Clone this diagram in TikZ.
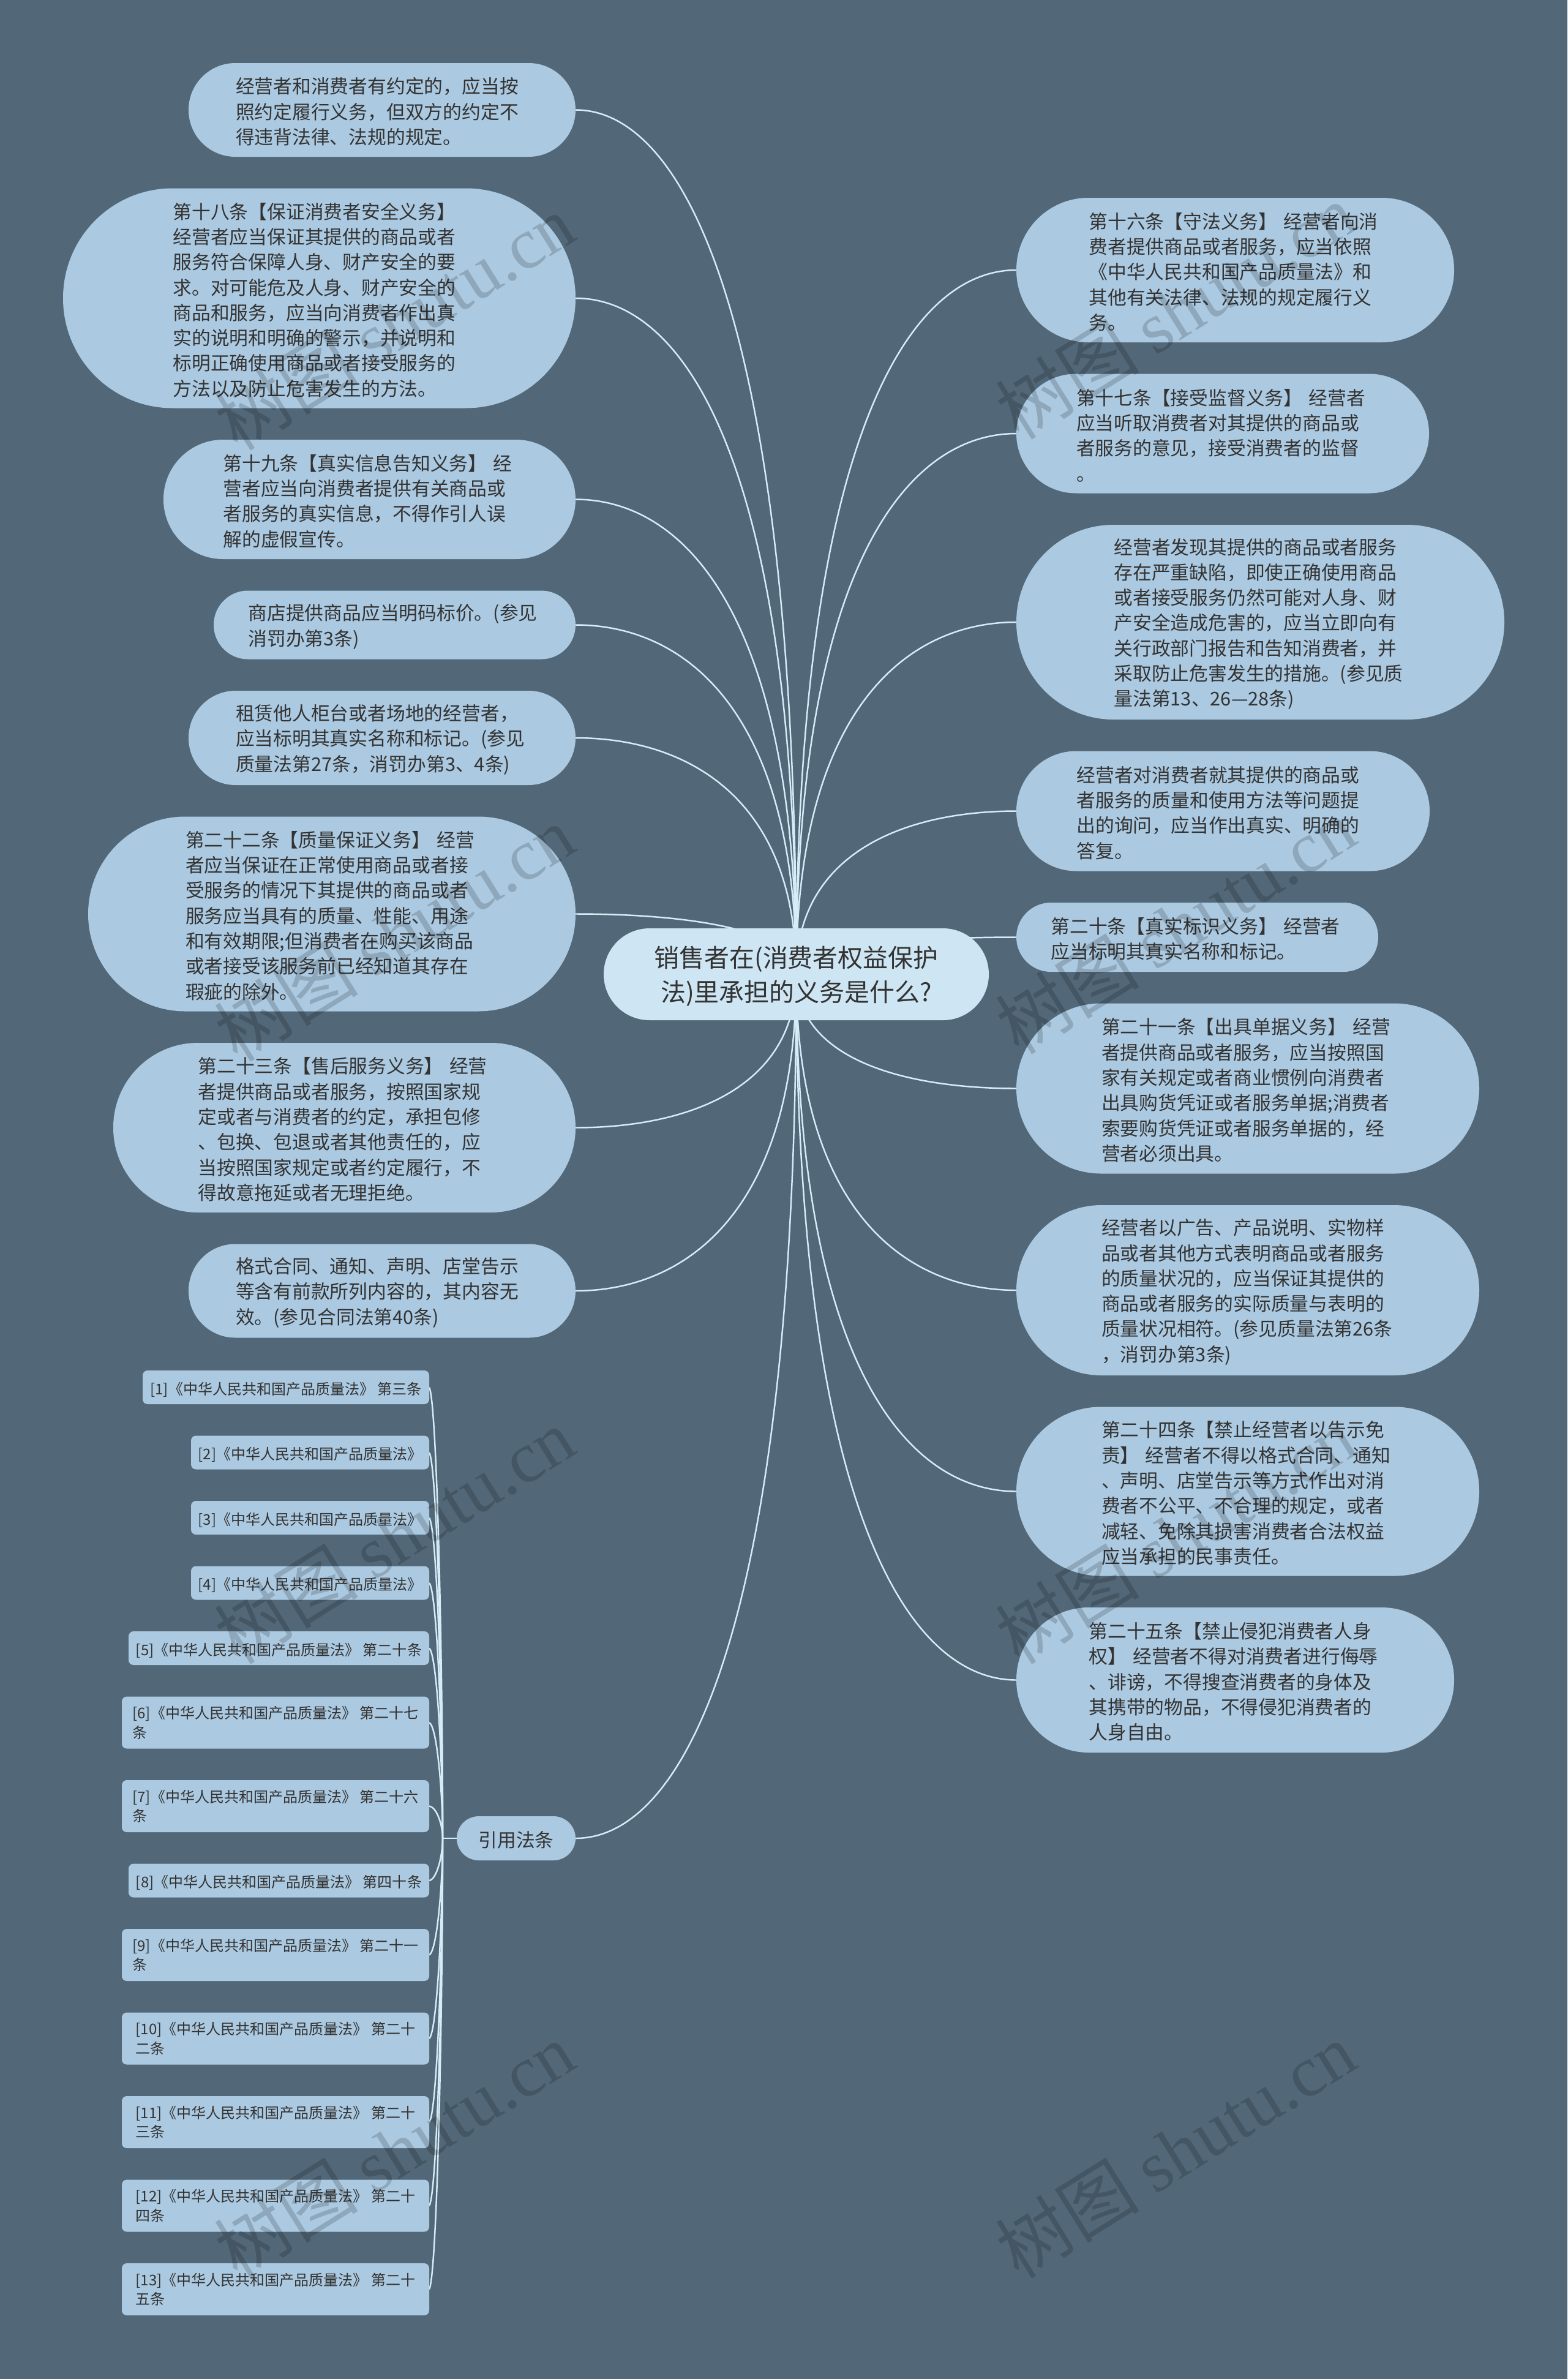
\documentclass[tikz,border=0pt]{standalone}
\usepackage{fontspec}
\setmainfont{Noto Sans CJK SC}
\newfontfamily\markfont{Liberation Serif}
\usetikzlibrary{positioning, calc, backgrounds}
\definecolor{slatebg}{HTML}{526878}
\definecolor{pillblue}{HTML}{ABC9E0}
\definecolor{hubblue}{HTML}{CEE5F3}
\definecolor{linkblue}{HTML}{D6ECF7}
\definecolor{inkgray}{HTML}{333333}

\begin{document}
\begin{tikzpicture}[node distance=.515cm,
      pill/.style 2 args={shape=rectangle, fill=pillblue, text=inkgray, inner sep=0pt, outer sep=0pt,
        minimum width=#1, minimum height=#2, rounded corners=#2*.499,
        text width=4.78cm, align=left, font=\fontsize{8.76}{11.75}\selectfont,
        execute at begin node={\rule{0pt}{9.1pt}}},
      hubpill/.style 2 args={pill={#1}{#2}, fill=hubblue, text width=5.2cm, align=center, font=\fontsize{11.65}{15.9}\selectfont,
        execute at begin node={\rule{0pt}{11.7pt}}},
      refpill/.style 2 args={pill={#1}{#2}, text width=1.4cm, align=center},
      cite/.style={shape=rectangle, rounded corners=.08cm, fill=pillblue, text=inkgray, inner sep=0pt, outer sep=0pt,
        align=left, minimum height=.55cm, font=\fontsize{6.83}{8.96}\selectfont,
        execute at begin node={\rule{0pt}{7.9pt}}},
      citetwo/.style={cite, minimum width=5.02cm, minimum height=.85cm},
      link/.style={draw=linkblue, line width=.7pt},
      sprout/.style={to path={.. controls ($(\tikztostart|-\tikztotarget)!.25!(\tikztostart)$) and ($(\tikztostart|-\tikztotarget)!.5!(\tikztotarget)$) .. (\tikztotarget)}},
      twig/.style={to path={.. controls ($(\tikztostart|-\tikztotarget)!.6!(\tikztostart)$) and ([xshift=.12cm]$(\tikztotarget)!.03!(\tikztostart)$) .. (\tikztotarget)}},
      stamp/.style={rotate=32, text=black, text opacity=.17, font=\fontsize{33.5}{33.5}\selectfont}]
      \useasboundingbox (0,0) rectangle (25.6,-38.85);

      % centre
      \node[hubpill={6.29cm}{1.5cm}] (hub) at (13.005,-15.91) {销售者在(消费者权益保护\\法)里承担的义务是什么?};

      % left column
      \node[pill={6.32cm}{1.53cm}, anchor=north east] (l_1) at (9.4,-1.03) {经营者和消费者有约定的，应当按\\照约定履行义务，但双方的约定不\\得违背法律、法规的规定。};
      \node[pill={8.37cm}{3.59cm}, below=of l_1.south east, anchor=north east] (l_2) {第十八条【保证消费者安全义务】\\经营者应当保证其提供的商品或者\\服务符合保障人身、财产安全的要\\求。对可能危及人身、财产安全的\\商品和服务，应当向消费者作出真\\实的说明和明确的警示，并说明和\\标明正确使用商品或者接受服务的\\方法以及防止危害发生的方法。};
      \node[pill={6.73cm}{1.95cm}, below=of l_2.south east, anchor=north east] (l_3) {第十九条【真实信息告知义务】 经\\营者应当向消费者提供有关商品或\\者服务的真实信息，不得作引人误\\解的虚假宣传。};
      \node[pill={5.91cm}{1.12cm}, below=of l_3.south east, anchor=north east] (l_4) {商店提供商品应当明码标价。(参见\\消罚办第3条)};
      \node[pill={6.32cm}{1.54cm}, below=of l_4.south east, anchor=north east] (l_5) {租赁他人柜台或者场地的经营者，\\应当标明其真实名称和标记。(参见\\质量法第27条，消罚办第3、4条)};
      \node[pill={7.96cm}{3.18cm}, below=of l_5.south east, anchor=north east] (l_6) {第二十二条【质量保证义务】 经营\\者应当保证在正常使用商品或者接\\受服务的情况下其提供的商品或者\\服务应当具有的质量、性能、用途\\和有效期限;但消费者在购买该商品\\或者接受该服务前已经知道其存在\\瑕疵的除外。};
      \node[pill={7.55cm}{2.77cm}, below=of l_6.south east, anchor=north east] (l_7) {第二十三条【售后服务义务】 经营\\者提供商品或者服务，按照国家规\\定或者与消费者的约定，承担包修\\、包换、包退或者其他责任的，应\\当按照国家规定或者约定履行，不\\得故意拖延或者无理拒绝。};
      \node[pill={6.32cm}{1.53cm}, below=of l_7.south east, anchor=north east] (l_8) {格式合同、通知、声明、店堂告示\\等含有前款所列内容的，其内容无\\效。(参见合同法第40条)};

      % right column
      \node[pill={7.15cm}{2.36cm}, anchor=north west] (r_1) at (16.6,-3.23) {第十六条【守法义务】 经营者向消\\费者提供商品或者服务，应当依照\\《中华人民共和国产品质量法》和\\其他有关法律、法规的规定履行义\\务。};
      \node[pill={6.74cm}{1.95cm}, below=of r_1.south west, anchor=north west] (r_2) {第十七条【接受监督义务】 经营者\\应当听取消费者对其提供的商品或\\者服务的意见，接受消费者的监督\\。};
      \node[pill={7.97cm}{3.18cm}, below=of r_2.south west, anchor=north west] (r_3) {经营者发现其提供的商品或者服务\\存在严重缺陷，即使正确使用商品\\或者接受服务仍然可能对人身、财\\产安全造成危害的，应当立即向有\\关行政部门报告和告知消费者，并\\采取防止危害发生的措施。(参见质\\量法第13、26—28条)};
      \node[pill={6.75cm}{1.96cm}, below=of r_3.south west, anchor=north west] (r_4) {经营者对消费者就其提供的商品或\\者服务的质量和使用方法等问题提\\出的询问，应当作出真实、明确的\\答复。};
      \node[pill={5.91cm}{1.13cm}, below=of r_4.south west, anchor=north west] (r_5) {第二十条【真实标识义务】 经营者\\应当标明其真实名称和标记。};
      \node[pill={7.56cm}{2.78cm}, below=of r_5.south west, anchor=north west] (r_6) {第二十一条【出具单据义务】 经营\\者提供商品或者服务，应当按照国\\家有关规定或者商业惯例向消费者\\出具购货凭证或者服务单据;消费者\\索要购货凭证或者服务单据的，经\\营者必须出具。};
      \node[pill={7.56cm}{2.78cm}, below=of r_6.south west, anchor=north west] (r_7) {经营者以广告、产品说明、实物样\\品或者其他方式表明商品或者服务\\的质量状况的，应当保证其提供的\\商品或者服务的实际质量与表明的\\质量状况相符。(参见质量法第26条\\，消罚办第3条)};
      \node[pill={7.56cm}{2.76cm}, below=of r_7.south west, anchor=north west] (r_8) {第二十四条【禁止经营者以告示免\\责】 经营者不得以格式合同、通知\\、声明、店堂告示等方式作出对消\\费者不公平、不合理的规定，或者\\减轻、免除其损害消费者合法权益\\应当承担的民事责任。};
      \node[pill={7.15cm}{2.37cm}, below=of r_8.south west, anchor=north west] (r_9) {第二十五条【禁止侵犯消费者人身\\权】 经营者不得对消费者进行侮辱\\、诽谤，不得搜查消费者的身体及\\其携带的物品，不得侵犯消费者的\\人身自由。};

      % citations
      \node[refpill={1.94cm}{.72cm}, anchor=east] (refs) at (9.4,-30.02) {引用法条};
      \coordinate[left=.23cm of refs.west] (trunk);
      \node[cite, minimum width=4.68cm, anchor=north east] (c_1) at (7.01,-22.38) {[1]《中华人民共和国产品质量法》 第三条};
      \node[cite, minimum width=3.89cm, below=of c_1.south east, anchor=north east] (c_2) {[2]《中华人民共和国产品质量法》};
      \node[cite, minimum width=3.89cm, below=of c_2.south east, anchor=north east] (c_3) {[3]《中华人民共和国产品质量法》};
      \node[cite, minimum width=3.89cm, below=of c_3.south east, anchor=north east] (c_4) {[4]《中华人民共和国产品质量法》};
      \node[cite, minimum width=4.91cm, below=of c_4.south east, anchor=north east] (c_5) {[5]《中华人民共和国产品质量法》 第二十条};
      \node[citetwo, below=of c_5.south east, anchor=north east] (c_6) {[6]《中华人民共和国产品质量法》 第二十七\\条};
      \node[citetwo, below=of c_6.south east, anchor=north east] (c_7) {[7]《中华人民共和国产品质量法》 第二十六\\条};
      \node[cite, minimum width=4.91cm, below=of c_7.south east, anchor=north east] (c_8) {[8]《中华人民共和国产品质量法》 第四十条};
      \node[citetwo, below=of c_8.south east, anchor=north east] (c_9) {[9]《中华人民共和国产品质量法》 第二十一\\条};
      \node[citetwo, below=of c_9.south east, anchor=north east] (c_10) {[10]《中华人民共和国产品质量法》 第二十\\二条};
      \node[citetwo, below=of c_10.south east, anchor=north east] (c_11) {[11]《中华人民共和国产品质量法》 第二十\\三条};
      \node[citetwo, below=of c_11.south east, anchor=north east] (c_12) {[12]《中华人民共和国产品质量法》 第二十\\四条};
      \node[citetwo, below=of c_12.south east, anchor=north east] (c_13) {[13]《中华人民共和国产品质量法》 第二十\\五条};

      \begin{pgfonlayer}{background}
        \fill[slatebg] (0,0) rectangle (25.6,-38.85);
        \path[link]
        (hub.center) edge[sprout] (l_1.east)
        (hub.center) edge[sprout] (l_2.east)
        (hub.center) edge[sprout] (l_3.east)
        (hub.center) edge[sprout] (l_4.east)
        (hub.center) edge[sprout] (l_5.east)
        (hub.center) edge[sprout] (l_6.east)
        (hub.center) edge[sprout] (l_7.east)
        (hub.center) edge[sprout] (l_8.east)
        (hub.center) edge[sprout] (refs.east)
        (hub.center) edge[sprout] (r_1.west)
        (hub.center) edge[sprout] (r_2.west)
        (hub.center) edge[sprout] (r_3.west)
        (hub.center) edge[sprout] (r_4.west)
        (hub.center) edge[sprout] (r_5.west)
        (hub.center) edge[sprout] (r_6.west)
        (hub.center) edge[sprout] (r_7.west)
        (hub.center) edge[sprout] (r_8.west)
        (hub.center) edge[sprout] (r_9.west);
        \draw[link] (refs.west) -- (trunk);
        \path[link]
        (trunk) edge[twig] (c_1.east)
        (trunk) edge[twig] (c_2.east)
        (trunk) edge[twig] (c_3.east)
        (trunk) edge[twig] (c_4.east)
        (trunk) edge[twig] (c_5.east)
        (trunk) edge[twig] (c_6.east)
        (trunk) edge[twig] (c_7.east)
        (trunk) edge[twig] (c_8.east)
        (trunk) edge[twig] (c_9.east)
        (trunk) edge[twig] (c_10.east)
        (trunk) edge[twig] (c_11.east)
        (trunk) edge[twig] (c_12.east)
        (trunk) edge[twig] (c_13.east);
      \end{pgfonlayer}

      % watermarks
      \node[stamp] (w_1) at (6.44,-5.26) {树图 {\markfont shutu.cn}};
      \node[stamp] (w_2) at (6.44,-15.24) {树图 {\markfont shutu.cn}};
      \node[stamp] (w_3) at (6.44,-25.08) {树图 {\markfont shutu.cn}};
      \node[stamp] (w_4) at (6.44,-35.11) {树图 {\markfont shutu.cn}};
      \node[stamp] (w_5) at (19.2,-5.08) {树图 {\markfont shutu.cn}};
      \node[stamp] (w_6) at (19.2,-15.12) {树图 {\markfont shutu.cn}};
      \node[stamp] (w_7) at (19.2,-25.08) {树图 {\markfont shutu.cn}};
      \node[stamp] (w_8) at (19.2,-35.11) {树图 {\markfont shutu.cn}};
    \end{tikzpicture}
\end{document}
